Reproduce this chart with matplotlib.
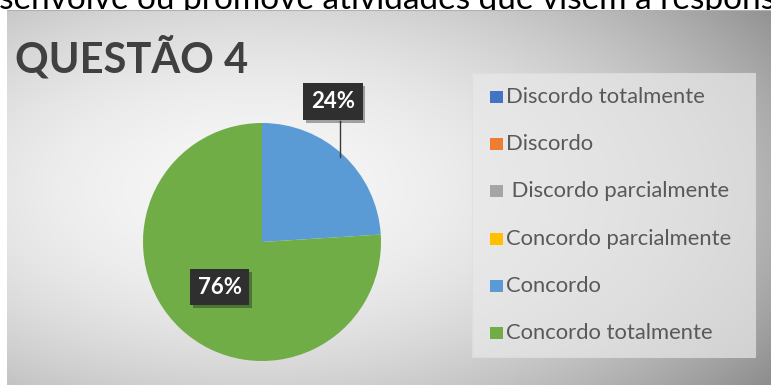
import numpy as np
import matplotlib
matplotlib.use("Agg")
import matplotlib.pyplot as plt
from matplotlib.patches import Rectangle
import matplotlib.patheffects as pe

# ---------------- data ----------------
categories = ["Discordo totalmente", "Discordo", " Discordo parcialmente",
              "Concordo parcialmente", "Concordo", "Concordo totalmente"]
values = [0, 0, 0, 0, 24, 76]
colors = ["#4472C4", "#ED7D31", "#A5A5A5", "#FFC000", "#5B9BD5", "#70AD47"]
title = "QUESTÃO 4"
header = "senvolve ou promove atividades que visem à responsabilidade social"

W, H = 771, 385
plt.rcParams['font.family'] = ['Lato', 'DejaVu Sans']
fig = plt.figure(figsize=(W / 100, H / 100), dpi=100)
fig.patch.set_facecolor('white')


def fx(x):
    return x / W


def fy(y):
    return 1 - y / H


# header text (cut off by the panel)
fig.text(fx(-1), fy(9), header, fontsize=24, color='black', ha='left',
         va='baseline', zorder=-5)

# background panel with radial gradient
bg = fig.add_axes([fx(7), 0, 1 - fx(7), (H - 10) / H], zorder=0)
gx = np.linspace(7, W, 400)
gy = np.linspace(10, H, 200)
GX, GY = np.meshgrid(gx, gy)
d2 = ((GX - 250) / 520) ** 2 + ((GY - 190) / 270) ** 2
val = np.clip(0.965 - 0.27 * d2, 0, 1)
img = np.dstack([val, val, val])
bg.imshow(img, extent=[0, 1, 0, 1], aspect='auto', origin='upper')
bg.axhline(1, color='#b0b0b0', lw=1.5)
bg.set_xlim(0, 1)
bg.set_ylim(0, 1)
bg.axis('off')

# title
fig.text(fx(15), fy(73), title, fontsize=30, fontweight='bold', color='#404040',
         ha='left', va='baseline', zorder=5)

# pie
cx, cy, r = 262, 242, 119
pa = fig.add_axes([fx(cx - r), fy(cy + r), 2 * r / W, 2 * r / H], zorder=2)
wedges, _ = pa.pie(values, colors=colors, startangle=90, counterclock=False,
                   radius=1, wedgeprops=dict(linewidth=0))
pa.set_xlim(-1, 1)
pa.set_ylim(-1, 1)
pa.set_aspect('auto')
pa.axis('off')

box = dict(boxstyle='square,pad=0.35', fc='#2f2f2f', ec='none')
total = sum(values)
for w, v in zip(wedges, values):
    if v == 0:
        continue
    mid = np.deg2rad((w.theta1 + w.theta2) / 2)
    ex, ey = np.cos(mid), np.sin(mid)
    txt = f"{round(100 * v / total)}%"
    if v / total < 0.5:
        # callout label above the slice with a leader line
        pa.plot([ex * 0.96, ex * 0.96], [ey * 0.98, 1.02], color='#3a3a3a', lw=1,
                clip_on=False, zorder=3)
        t = pa.text(ex - 0.09, 1.18, txt, ha='center', va='center', color='white',
                    fontsize=16, fontweight='bold', bbox=box, zorder=4, clip_on=False)
    else:
        t = pa.text(ex * 0.52, ey * 0.52, txt, ha='center', va='center', color='white',
                    fontsize=16, fontweight='bold', bbox=box, zorder=4)
    t.get_bbox_patch().set_path_effects(
        [pe.SimplePatchShadow(offset=(2, -2), alpha=0.35), pe.Normal()])

# legend (drawn manually)
fig.patches.append(Rectangle((fx(472), fy(357)), fx(755) - fx(472), fy(73) - fy(357),
                             transform=fig.transFigure, facecolor='#e9e9e9',
                             edgecolor='#dedede', lw=0.8, alpha=0.7, zorder=1))
for i, (lab, col) in enumerate(zip(categories, colors)):
    yc = 97 + i * 47.2
    fig.patches.append(Rectangle((fx(490), fy(yc + 6)), 13 / W, 12 / H,
                                 transform=fig.transFigure, facecolor=col,
                                 edgecolor='none', zorder=3))
    fig.text(fx(506), fy(yc), lab, fontsize=15.8, color='#595959', ha='left',
             va='center', zorder=3)

fig.savefig('out.png', dpi=100)
